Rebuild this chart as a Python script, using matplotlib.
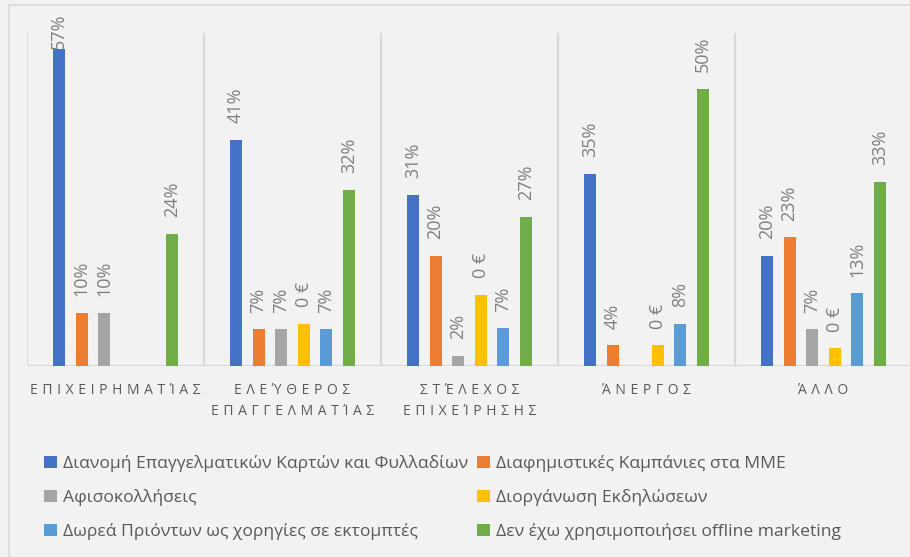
import matplotlib.pyplot as plt
from matplotlib.patches import Rectangle, Patch
import numpy as np

plt.rcParams['font.family'] = ['Open Sans', 'DejaVu Sans']

# categories (x axis)
categories = [['ΕΠΙΧΕΙΡΗΜΑΤΊΑΣ'],
              ['ΕΛΕΎΘΕΡΟΣ', 'ΕΠΑΓΓΕΛΜΑΤΊΑΣ'],
              ['ΣΤΈΛΕΧΟΣ', 'ΕΠΙΧΕΊΡΗΣΗΣ'],
              ['ΆΝΕΡΓΟΣ'],
              ['ΆΛΛΟ']]

series_names = ['Διανομή Επαγγελματικών Καρτών και Φυλλαδίων',
                'Διαφημιστικές Καμπάνιες στα ΜΜΕ',
                'Αφισοκολλήσεις',
                'Διοργάνωση Εκδηλώσεων',
                'Δωρεά Πριόντων ως χορηγίες σε εκτομπτές',
                'Δεν έχω χρησιμοποιήσει offline marketing']

# values in percent
cards = [57.1, 40.7, 30.9, 34.6, 19.9]
media = [9.6, 6.6, 19.9, 3.7, 23.2]
posters = [9.6, 6.6, 1.8, 0, 6.6]
events = [0, 7.6, 12.8, 3.7, 3.2]
sponsor = [0, 6.6, 6.8, 7.6, 13.1]
no_offline = [23.8, 31.8, 26.9, 49.9, 33.2]
series_values = [cards, media, posters, events, sponsor, no_offline]

# the events series shows a broken currency format in the original
label_fmt = ['{:.0f}%', '{:.0f}%', '{:.0f}%', '0 €', '{:.0f}%', '{:.0f}%']

colors = ['#4472C4', '#ED7D31', '#A5A5A5', '#FFC000', '#5B9BD5', '#70AD47']
bg = '#F2F2F2'
grid = '#D9D9D9'
text_col = '#7F7F7F'

W, H = 910, 557
fig = plt.figure(figsize=(W / 100, H / 100), dpi=100, facecolor=bg)

# outer chart frame (cut off at right and bottom in the screenshot)
fig.patches.append(Rectangle((9 / W, -0.1), 1.2, (557 - 5) / H + 0.1,
                             transform=fig.transFigure, fill=False,
                             edgecolor=grid, linewidth=1.2))

ax_h = 333
ax = fig.add_axes([27 / W, (H - 366) / H, 885 / W, ax_h / H])
ax.set_facecolor(bg)
ymax = 60
ax.set_xlim(-0.5, 4.5)
ax.set_ylim(0, ymax)

x = np.arange(len(categories))
slot = 0.1277
width = 0.068
for i, vals in enumerate(series_values):
    pos = x + (i - 2.5) * slot
    vals = np.array(vals)
    ax.bar(pos, vals, width, color=colors[i], zorder=3)
    for p, v in zip(pos, vals):
        if v <= 0:
            continue
        # room above the bar (pixels) before the label would leave the chart
        room = (ymax - v) / ymax * ax_h + 20 - 36
        off = max(0, min(12, room / 1.389))
        ax.annotate(label_fmt[i].format(v), (p, v), xytext=(0, off),
                    textcoords='offset points', rotation=90,
                    ha='center', va='bottom', fontsize=13,
                    color=text_col, annotation_clip=False)

ax.vlines(np.arange(-0.5, 5, 1), 0, ymax, color=grid, linewidth=1.5, zorder=1)
ax.axhline(0, color=grid, linewidth=1.5, zorder=2)

for s in ax.spines.values():
    s.set_visible(False)
ax.set_yticks([])
ax.set_xticks(x)
spaced = ['\n'.join('\u2004'.join(line) for line in c) for c in categories]
ax.set_xticklabels(spaced, fontsize=10, color='#595959', linespacing=1.6)
ax.tick_params(axis='x', length=0, pad=12)

# legend is filled row by row in the original
order = [0, 2, 4, 1, 3, 5]
handles = [Patch(facecolor=colors[k]) for k in order]
labels = [series_names[k] for k in order]
fig.legend(handles, labels, loc='upper left',
           bbox_to_anchor=(44 / W, 1 - 455 / H), ncol=2, frameon=False,
           fontsize=12.6, labelcolor='#595959', handlelength=0.72,
           handleheight=0.72, handletextpad=0.35, columnspacing=0.55,
           labelspacing=0.98, borderpad=0, borderaxespad=0)

fig.savefig('out.png', dpi=100, facecolor=bg)
